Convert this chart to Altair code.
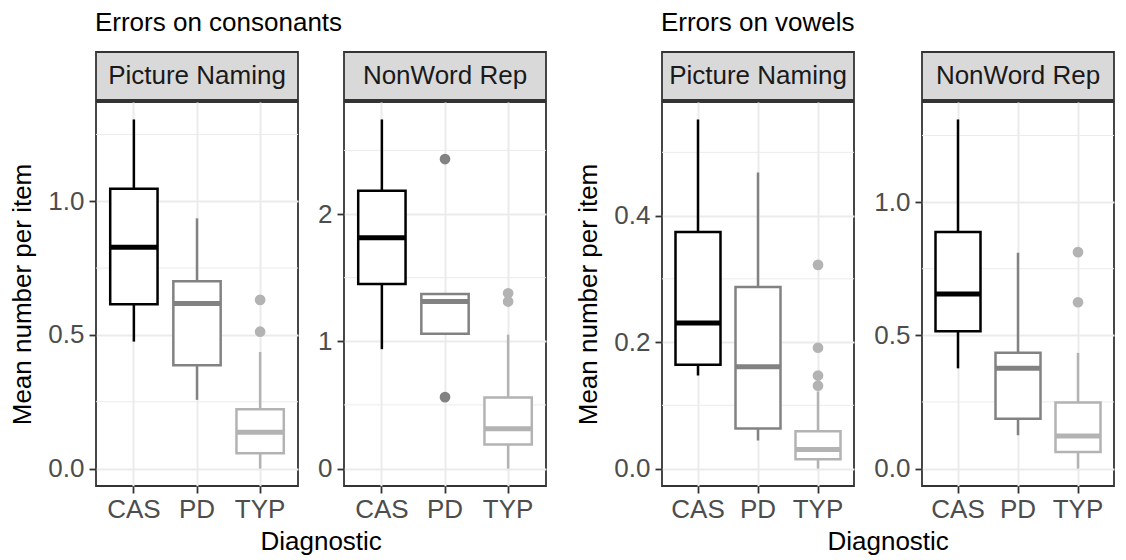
import altair as alt
import pandas as pd

diagnostics = ["CAS", "PD", "TYP"]
diag_colors = ["#000000", "#828282", "#B3B3B3"]
group_titles = ["Errors on consonants", "Errors on vowels"]
task_labels = ["Picture Naming", "NonWord Rep"]
y_title = "Mean number per item"
x_title = "Diagnostic"

# Errors on consonants - Picture Naming
cons_pn_lower = [0.475, 0.257, 0.0]
cons_pn_q1 = [0.615, 0.386, 0.057]
cons_pn_median = [0.828, 0.617, 0.136]
cons_pn_q3 = [1.047, 0.701, 0.222]
cons_pn_upper = [1.306, 0.936, 0.436]
cons_pn_out_diag = ["TYP", "TYP"]
cons_pn_out_val = [0.512, 0.631]
cons_pn_ticks = [0.0, 0.5, 1.0]
cons_pn_minor = [0.25, 0.75, 1.25]

# Errors on consonants - NonWord Rep
cons_nw_lower = [0.938, 1.060, 0.0]
cons_nw_q1 = [1.450, 1.060, 0.189]
cons_nw_median = [1.813, 1.312, 0.312]
cons_nw_q3 = [2.182, 1.372, 0.559]
cons_nw_upper = [2.743, 1.372, 1.052]
cons_nw_out_diag = ["PD", "PD", "TYP", "TYP"]
cons_nw_out_val = [2.432, 0.561, 1.312, 1.377]
cons_nw_ticks = [0, 1, 2]
cons_nw_minor = [0.5, 1.5, 2.5]

# Errors on vowels - Picture Naming
vow_pn_lower = [0.147, 0.0445, 0.0]
vow_pn_q1 = [0.164, 0.0633, 0.0146]
vow_pn_median = [0.230, 0.161, 0.030]
vow_pn_q3 = [0.374, 0.287, 0.059]
vow_pn_upper = [0.552, 0.468, 0.122]
vow_pn_out_diag = ["TYP", "TYP", "TYP", "TYP"]
vow_pn_out_val = [0.131, 0.147, 0.191, 0.322]
vow_pn_ticks = [0.0, 0.2, 0.4]
vow_pn_minor = [0.1, 0.3, 0.5]

# Errors on vowels - NonWord Rep
vow_nw_lower = [0.376, 0.125, 0.0]
vow_nw_q1 = [0.515, 0.187, 0.062]
vow_nw_median = [0.655, 0.376, 0.122]
vow_nw_q3 = [0.888, 0.435, 0.248]
vow_nw_upper = [1.310, 0.810, 0.434]
vow_nw_out_diag = ["TYP", "TYP"]
vow_nw_out_val = [0.624, 0.812]
vow_nw_ticks = [0.0, 0.5, 1.0]
vow_nw_minor = [0.25, 0.75, 1.25]

FONT = "Liberation Sans"
FS = 26
LABEL_COLOR = "#4D4D4D"
GRID = "#EBEBEB"
BORDER = "#333333"
H = 384
STRIP_H = 48
W_CONS = 202
W_VOW = 192


def make_panel(task, lower, q1, med, q3, upper, out_diag, out_val,
               ticks, fmt, minor, width, first):
    box_df = pd.DataFrame({"Diagnostic": diagnostics, "lower": lower, "q1": q1,
                           "median": med, "q3": q3, "upper": upper})
    out_df = pd.DataFrame({"Diagnostic": out_diag, "value": out_val})
    minor_df = pd.DataFrame({"minor": minor})
    allv = list(lower) + list(upper) + list(out_val)
    lo, hi = min(allv), max(allv)
    pad = 0.05 * (hi - lo)
    yscale = alt.Scale(domain=[lo - pad, hi + pad], nice=False, zero=False)
    xscale = alt.Scale(domain=diagnostics, paddingInner=0.25, paddingOuter=0.225)
    xaxis = alt.Axis(title=None, labelAngle=0, grid=True, gridColor=GRID, gridWidth=2,
                     domain=False, tickColor=BORDER, tickWidth=1.8, tickSize=7,
                     labelColor=LABEL_COLOR, labelFontSize=FS, labelFont=FONT, labelPadding=3)
    yaxis_kwargs = dict(values=ticks, format=fmt, grid=True, gridColor=GRID, gridWidth=2,
                        domain=False, tickColor=BORDER, tickWidth=1.8, tickSize=7,
                        labelColor=LABEL_COLOR, labelFontSize=FS, labelFont=FONT,
                        labelPadding=5)
    if first:
        yaxis = alt.Axis(title=y_title, titleFontSize=FS, titleFont=FONT,
                         titleFontWeight="normal", titleColor="#000000", titlePadding=12,
                         **yaxis_kwargs)
    else:
        yaxis = alt.Axis(title=None, **yaxis_kwargs)
    x = alt.X("Diagnostic:N", scale=xscale, axis=xaxis)
    col = alt.Color("Diagnostic:N", scale=alt.Scale(domain=diagnostics, range=diag_colors),
                    legend=None)
    stroke = alt.Stroke("Diagnostic:N", scale=alt.Scale(domain=diagnostics, range=diag_colors),
                        legend=None)
    bw = 0.75 * width / 3.2

    minor_layer = alt.Chart(minor_df).mark_rule(color=GRID, strokeWidth=1).encode(
        y=alt.Y("minor:Q", scale=yscale, axis=yaxis))
    whisk = alt.Chart(box_df).mark_rule(strokeWidth=2.5).encode(
        x=x, y=alt.Y("lower:Q", scale=yscale, axis=yaxis), y2="upper:Q", color=col)
    box = alt.Chart(box_df).mark_bar(fill="white", strokeWidth=2.5).encode(
        x=x, y=alt.Y("q1:Q", scale=yscale, axis=yaxis), y2="q3:Q", stroke=stroke)
    medl = alt.Chart(box_df).mark_tick(thickness=5, size=bw, opacity=1).encode(
        x=x, y=alt.Y("median:Q", scale=yscale, axis=yaxis), color=col)
    outl = alt.Chart(out_df).mark_circle(size=115, opacity=1).encode(
        x=x, y=alt.Y("value:Q", scale=yscale, axis=yaxis), color=col)
    main = alt.layer(minor_layer, whisk, box, medl, outl).properties(width=width, height=H)

    strip = alt.Chart(pd.DataFrame({"task": [task]}),
                      view=alt.ViewBackground(fill="#D9D9D9", stroke=BORDER, strokeWidth=1.8)
                      ).mark_text(font=FONT, fontSize=FS, color="#1A1A1A", baseline="middle",
                                  align="center").encode(
        text="task:N", x=alt.value(width / 2), y=alt.value(STRIP_H / 2)
    ).properties(width=width, height=STRIP_H)
    return alt.vconcat(strip, main, spacing=0)


def make_group(title, p1, p2):
    row = alt.hconcat(p1, p2, spacing=16).properties(
        title=alt.TitleParams(x_title, orient="bottom", anchor="middle", dx=43,
                              fontSize=FS, font=FONT, fontWeight="normal",
                              color="#000000", offset=6))
    return alt.vconcat(row).properties(
        title=alt.TitleParams(title, anchor="start", dx=86, fontSize=FS, font=FONT,
                              fontWeight="normal", color="#000000", offset=15))


cons_group = make_group(
    group_titles[0],
    make_panel(task_labels[0], cons_pn_lower, cons_pn_q1, cons_pn_median, cons_pn_q3,
               cons_pn_upper, cons_pn_out_diag, cons_pn_out_val, cons_pn_ticks, ".1f",
               cons_pn_minor, W_CONS, True),
    make_panel(task_labels[1], cons_nw_lower, cons_nw_q1, cons_nw_median, cons_nw_q3,
               cons_nw_upper, cons_nw_out_diag, cons_nw_out_val, cons_nw_ticks, "d",
               cons_nw_minor, W_CONS, False),
)
vow_group = make_group(
    group_titles[1],
    make_panel(task_labels[0], vow_pn_lower, vow_pn_q1, vow_pn_median, vow_pn_q3,
               vow_pn_upper, vow_pn_out_diag, vow_pn_out_val, vow_pn_ticks, ".1f",
               vow_pn_minor, W_VOW, True),
    make_panel(task_labels[1], vow_nw_lower, vow_nw_q1, vow_nw_median, vow_nw_q3,
               vow_nw_upper, vow_nw_out_diag, vow_nw_out_val, vow_nw_ticks, ".1f",
               vow_nw_minor, W_VOW, False),
)

chart = alt.hconcat(cons_group, vow_group, spacing=26).properties(
    padding={"left": 0, "top": 2, "right": 0, "bottom": 0},
    background="white",
).configure(font=FONT).configure_view(stroke=BORDER, strokeWidth=1.8)

chart.save("out.html", embed_options={"renderer": "svg", "actions": False})
